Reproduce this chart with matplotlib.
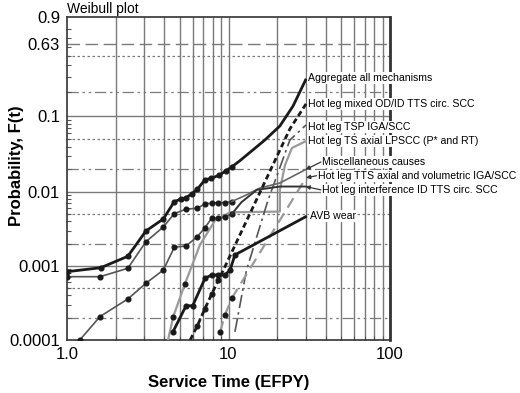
import numpy as np
import matplotlib
matplotlib.use("Agg")
import matplotlib.pyplot as plt
from matplotlib.scale import FuncScale
from matplotlib.ticker import FixedLocator, NullFormatter

plt.rcParams['font.family'] = ['Liberation Sans', 'DejaVu Sans']

# ---------------- data (EFPY, probability F) ----------------
agg_t = [1.0, 1.62, 2.38, 3.08, 3.95, 4.62, 5.06, 5.46, 5.92, 6.41, 7.15, 7.79, 8.77, 9.65, 10.47]
agg_F = [8.36e-4, 9.47e-4, 1.35e-3, 2.96e-3, 4.31e-3, 7.38e-3, 7.94e-3, 8.35e-3, 9.37e-3, 1.08e-2, 1.45e-2, 1.51e-2, 1.67e-2, 1.91e-2, 2.15e-2]
agg_curve_t = [10.47, 11.78, 16.8, 20.8, 25.1, 30.0]
agg_curve_F = [2.15e-2, 2.61e-2, 0.049, 0.0747, 0.1345, 0.277]

misc_t = [1.0, 1.6, 2.38, 3.08, 3.95, 4.62, 5.46, 6.41, 7.15, 7.86, 8.63, 9.5, 10.47]
misc_F = [7.16e-4, 7.16e-4, 9.29e-4, 2.12e-3, 3.36e-3, 5.08e-3, 5.83e-3, 6.01e-3, 6.87e-3, 7.02e-3, 7.15e-3, 7.15e-3, 7.38e-3]
misc_curve_t = [10.47, 12.93, 15.6, 20.8, 30.0]
misc_curve_F = [7.38e-3, 9.08e-3, 1.12e-2, 1.31e-2, 1.98e-2]

intf_t = [1.2, 1.6, 2.38, 3.08, 3.95, 4.62, 5.46, 6.41, 7.15, 7.86, 8.63, 9.5, 10.47]
intf_F = [1.0e-4, 2.07e-4, 3.58e-4, 5.83e-4, 8.81e-4, 1.79e-3, 1.86e-3, 2.48e-3, 3.29e-3, 4.40e-3, 4.40e-3, 4.62e-3, 5.0e-3]
intf_curve_t = [10.47, 12.0, 14.96, 20.8, 30.0]
intf_curve_F = [5.0e-3, 7.2e-3, 1.06e-2, 1.175e-2, 1.175e-2]

avb_t = [4.53, 5.46, 6.0, 7.15, 7.86, 8.63, 9.5, 10.23, 10.96, 30.0]
avb_F = [1.29e-4, 2.9e-4, 2.9e-4, 6.8e-4, 7.55e-4, 7.55e-4, 7.55e-4, 8.8e-4, 1.41e-3, 4.6e-3]

mixed_t = [5.79, 6.41, 7.15, 7.86, 8.63, 9.29, 24.0, 30.2]
mixed_F = [1.0e-4, 1.55e-4, 2.66e-4, 4.13e-4, 6.37e-4, 8.8e-4, 0.0686, 0.143]
mixed_dots = [1, 2, 3, 4]

tsp_t = [10.96, 12.93, 17.6, 24.0, 30.2]
tsp_F = [1.29e-4, 8.8e-4, 7.8e-3, 0.049, 0.077]

ts_t = [4.22, 4.55, 5.37, 6.66, 8.25, 10.23, 20.8, 20.8, 22.4, 24.7, 30.2]
ts_F = [1.0e-4, 2.07e-4, 5.7e-4, 1.93e-3, 4.1e-3, 5.3e-3, 5.41e-3, 1.06e-2, 2.29e-2, 3.84e-2, 0.0475]
ts_dots = [1, 2]

tts_t = [8.87, 9.5, 10.47, 30.2]
tts_F = [1.28e-4, 2.17e-4, 3.66e-4, 0.0154]

labels = ["Aggregate all mechanisms",
          "Hot leg mixed OD/ID TTS circ. SCC",
          "Hot leg TSP IGA/SCC",
          "Hot leg TS axial LPSCC (P* and RT)",
          "Miscellaneous causes",
          "Hot leg TTS axial and volumetric IGA/SCC",
          "Hot leg interference ID TTS circ. SCC",
          "AVB wear"]
label_t = [31.0, 31.0, 31.0, 31.0, 37.9, 35.6, 37.9, 32.0]
label_F = [0.292, 0.1426, 0.0724, 0.0475, 0.0250, 0.0164, 0.0106, 0.00473]
arrow_idx = [4, 5, 6]
arrow_t = [30.0, 30.2, 30.0]
arrow_F = [0.0198, 0.0154, 0.01175]

y_ticks = [0.0001, 0.001, 0.01, 0.1, 0.63, 0.9]
y_ticklabels = ["0.0001", "0.001", "0.01", "0.1", "0.63", "0.9"]
x_ticks = [1, 10, 100]
x_ticklabels = ["1.0", "10", "100"]

# ---------------- scale ----------------
def fwd(F):
    F = np.clip(np.asarray(F, dtype=float), 1e-12, 1 - 1e-12)
    return np.log10(-np.log(1 - F))

def inv(w):
    return 1 - np.exp(-10 ** np.asarray(w, dtype=float))

fig = plt.figure(figsize=(5.2, 3.93), dpi=100)
ax = fig.add_axes([67/520, 1 - 340/393, (390-67)/520, (340-17)/393])
ax.set_xscale("log")
ax.set_yscale(FuncScale(ax, (fwd, inv)))
ax.set_xlim(1, 100)
ax.set_ylim(0.0001, 0.9)

gc = "#7a7a7a"
for dec in [1, 10]:
    for m in range(2, 10):
        ax.axvline(dec*m, color=gc, lw=1.0, zorder=1)
ax.axvline(10, color=gc, lw=1.0, zorder=1)
for v in [0.001, 0.01, 0.1]:
    ax.axhline(v, color=gc, lw=1.0, zorder=1)
for v in [0.0002, 0.002, 0.02, 0.2]:
    ax.axhline(v, color=gc, lw=0.9, ls=(0, (9, 3, 2, 3, 2, 3)), zorder=1)
for v in [0.0005, 0.005, 0.05, 0.5]:
    ax.axhline(v, color=gc, lw=0.9, ls=(0, (2, 2)), zorder=1)
ax.axhline(0.63, color=gc, lw=1.0, ls=(0, (9, 4)), zorder=1)

blk = "#1a1a1a"
gry = "#555555"
lgry = "#9a9a9a"
ms = 3.4
# aggregate
ax.plot(agg_t, agg_F, color=blk, lw=2.0, marker="o", ms=ms, zorder=5)
ax.plot(agg_curve_t, agg_curve_F, color=blk, lw=2.0, zorder=5)
# misc
ax.plot(misc_t, misc_F, color=gry, lw=1.2, marker="o", ms=ms, mfc=blk, mec=blk, zorder=4)
ax.plot(misc_curve_t, misc_curve_F, color="#666666", lw=1.2, zorder=4)
# interference
ax.plot(intf_t, intf_F, color=gry, lw=1.2, marker="o", ms=ms, mfc=blk, mec=blk, zorder=4)
ax.plot(intf_curve_t, intf_curve_F, color="#333333", lw=1.4, zorder=4)
# TS axial LPSCC
ax.plot(ts_t, ts_F, color=lgry, lw=1.6, zorder=3)
ax.plot([ts_t[i] for i in ts_dots], [ts_F[i] for i in ts_dots], ls="none", marker="o",
        ms=ms, color=blk, zorder=4)
# AVB wear
ax.plot(avb_t[:-1], avb_F[:-1], color=blk, lw=2.0, marker="o", ms=ms, zorder=5)
ax.plot(avb_t[-2:], avb_F[-2:], color=blk, lw=2.0, zorder=5)
# mixed OD/ID
ax.plot(mixed_t, mixed_F, color=blk, lw=2.0, ls=(0, (2, 1.2)), zorder=5)
ax.plot([mixed_t[i] for i in mixed_dots], [mixed_F[i] for i in mixed_dots], ls="none",
        marker="o", ms=ms, color=blk, zorder=5)
# TSP
ax.plot(tsp_t, tsp_F, color=gry, lw=1.2, ls=(0, (8, 2.5, 1.5, 2.5)), zorder=3)
# TTS axial vol
ax.plot(tts_t, tts_F, color=lgry, lw=1.6, ls=(0, (5, 3)), zorder=3)
ax.plot(tts_t[:3], tts_F[:3], ls="none", marker="o", ms=ms, color=blk, zorder=4)

# labels
for lab, xv, yv in zip(labels, label_t, label_F):
    ax.text(xv, yv, lab, fontsize=7.6, va="center", ha="left", zorder=6, clip_on=False,
            bbox=dict(boxstyle="square,pad=0.08", fc="white", ec="none"))
for i, xa, fa in zip(arrow_idx, arrow_t, arrow_F):
    ax.annotate("", xy=(xa, fa), xytext=(label_t[i] * 0.985, label_F[i]),
                arrowprops=dict(arrowstyle="-|>", color="#333333", lw=0.9,
                                mutation_scale=6, shrinkA=0, shrinkB=0),
                zorder=6, annotation_clip=False)

ax.xaxis.set_major_locator(FixedLocator(x_ticks))
ax.set_xticklabels(x_ticklabels, fontsize=12)
ax.set_yticks(y_ticks)
ax.set_yticklabels(y_ticklabels, fontsize=12)
ax.tick_params(axis="both", which="major", length=0, pad=5)
minor_y = [m * 10.0**e for e in range(-4, -1) for m in range(2, 10)] + [0.2, 0.3, 0.4, 0.5, 0.6, 0.7, 0.8]
ax.yaxis.set_minor_locator(FixedLocator(minor_y))
ax.yaxis.set_minor_formatter(NullFormatter())
ax.xaxis.set_minor_locator(FixedLocator([m * 10.0**e for e in range(0, 2) for m in range(2, 10)]))
ax.xaxis.set_minor_formatter(NullFormatter())
ax.tick_params(axis="both", which="minor", direction="in", length=3, width=0.8, color="#555555")

fig.text(228.5 / 520, 1 - 383/393, "Service Time (EFPY)", fontsize=12,
         fontweight="bold", ha="center", va="center")
fig.text(17/520, 1 - 166/393, "Probability, F(t)", fontsize=12, fontweight="bold",
         ha="center", va="center", rotation=90)
fig.text(67/520, 1 - 9/393, "Weibull plot", fontsize=10, ha="left", va="center")
for s in ax.spines.values():
    s.set_color("#333333")
    s.set_linewidth(1.2)
ax.spines["right"].set_linewidth(2.0)

fig.savefig("out.png", dpi=100)
